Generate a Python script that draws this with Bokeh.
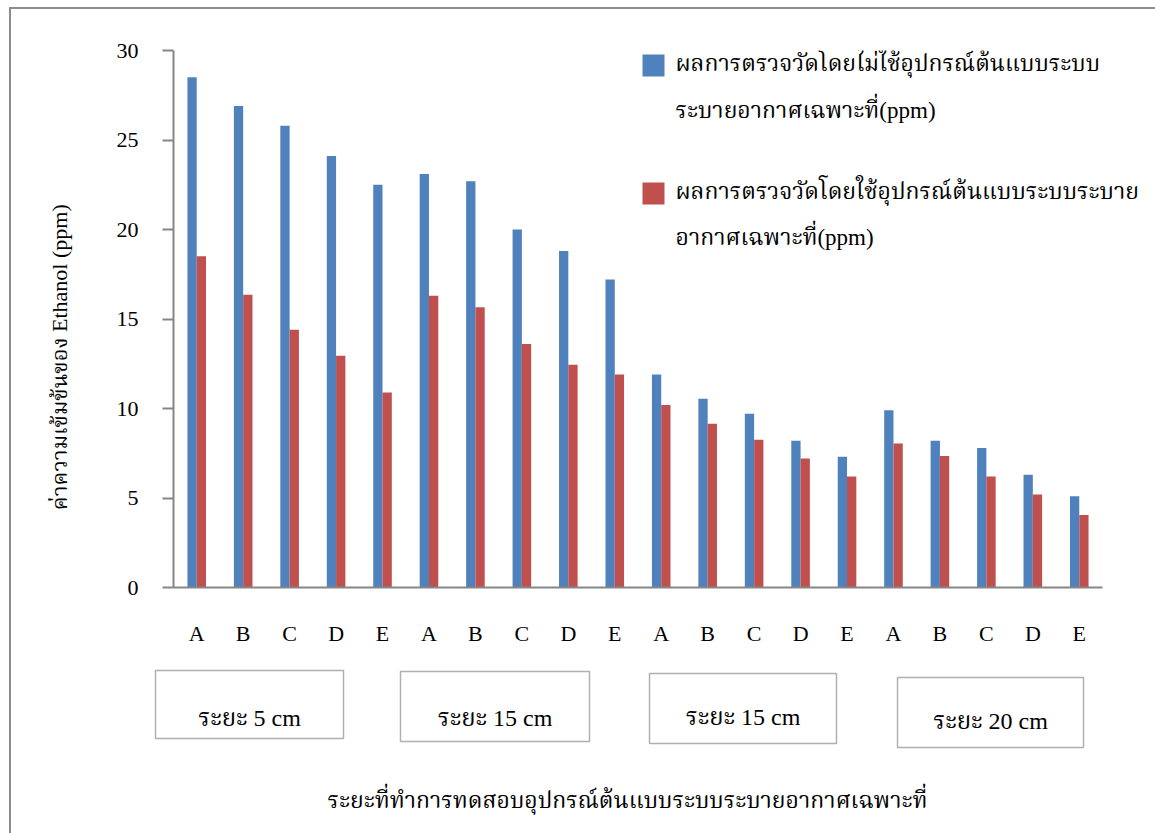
import numpy as np
from math import pi
from bokeh.plotting import figure
from bokeh.layouts import column, row
from bokeh.models import Range1d, FixedTicker, ColumnDataSource
from bokeh.core.properties import value
from bokeh.transform import dodge
from bokeh.embed import file_html
from bokeh.resources import INLINE

# ---------------- data ----------------
letters = ["A", "B", "C", "D", "E", "A", "B", "C", "D", "E",
           "A", "B", "C", "D", "E", "A", "B", "C", "D", "E"]
groups = ["ระยะ 5 cm", "ระยะ 15 cm", "ระยะ 15 cm", "ระยะ 20 cm"]
no_device = [28.5, 26.9, 25.8, 24.1, 22.5, 23.1, 22.7, 20.0, 18.8, 17.2,
             11.9, 10.55, 9.7, 8.2, 7.3, 9.9, 8.2, 7.8, 6.3, 5.1]
with_device = [18.5, 16.35, 14.4, 12.95, 10.9, 16.3, 15.65, 13.6, 12.45, 11.9,
               10.2, 9.15, 8.25, 7.2, 6.2, 8.05, 7.35, 6.2, 5.2, 4.05]
series_lines = [
    ["ผลการตรวจวัดโดยไม่ใช้อุปกรณ์ต้นแบบระบบ", "ระบายอากาศเฉพาะที่(ppm)"],
    ["ผลการตรวจวัดโดยใช้อุปกรณ์ต้นแบบระบบระบาย", "อากาศเฉพาะที่(ppm)"],
]
series_colors = ["#4F81BD", "#C0504D"]
y_title = "ค่าความเข้มข้นของ Ethanol (ppm)"
x_title = "ระยะที่ทำการทดสอบอุปกรณ์ต้นแบบระบบระบายอากาศเฉพาะที่"
y_ticks = [0, 5, 10, 15, 20, 25, 30]

# ---------------- page geometry (absolute pixels) ----------------
W, H = 1155, 833
OX, OY = 11, 9            # content origin after margin + border
SPLIT_X = 100             # left title strip | chart
SPLIT_Y = 655             # chart | group boxes strip
FL, FR, FT, FB = 173, 1102, 50, 587   # chart frame (axis extent)
n = len(letters)
YMAX = 30
CAT_PX = (FR - FL) / n
FONT = "'Liberation Serif', 'Noto Serif Thai', 'Noto Sans Thai', serif"


def cx(px):
    return (px - FL) / CAT_PX - 0.5


def cy(py):
    return (FB - py) / (FB - FT) * YMAX


def helper_fig(x0, x1, y0, y1):
    f = figure(width=x1 - x0, height=y1 - y0,
               x_range=Range1d(x0, x1), y_range=Range1d(H - y1, H - y0),
               x_axis_location=None, y_axis_location=None,
               output_backend="svg", toolbar_location=None, min_border=0)
    f.outline_line_color = None
    f.xgrid.visible = False
    f.ygrid.visible = False
    return f


# ---------------- left strip: y title ----------------
left = helper_fig(OX, SPLIT_X, OY, SPLIT_Y)
left.text(x=[59], y=[H - 378], text=[y_title], angle=pi / 2,
          text_align="center", text_baseline="middle",
          text_font=value(FONT), text_font_size="22px", text_color="black")

# ---------------- chart ----------------
x = np.arange(n)
src = ColumnDataSource(dict(x=x, a=no_device, b=with_device))

p = figure(width=W - SPLIT_X, height=SPLIT_Y - OY,
           x_range=Range1d(-0.5, cx(W)), y_range=Range1d(0, cy(FT)),
           output_backend="svg", toolbar_location=None,
           min_border_left=FL - SPLIT_X, min_border_right=0,
           min_border_top=FT - OY, min_border_bottom=SPLIT_Y - FB)
p.outline_line_color = None
p.xgrid.visible = False
p.ygrid.visible = False

p.vbar(x=dodge("x", -0.1), top="a", width=0.2, source=src,
       fill_color=series_colors[0], line_color=None)
p.vbar(x=dodge("x", 0.1), top="b", width=0.2, source=src,
       fill_color=series_colors[1], line_color=None)

p.xaxis.bounds = (-0.5, n - 0.5)
p.xaxis.ticker = FixedTicker(ticks=list(range(n)))
p.xaxis.major_label_overrides = {i: letters[i] for i in range(n)}
p.xaxis.major_tick_line_color = None
p.xaxis.minor_tick_line_color = None
p.xaxis.axis_line_color = "#868686"
p.xaxis.axis_line_width = 2
p.xaxis.major_label_standoff = 27
p.xaxis.major_label_text_font = FONT
p.xaxis.major_label_text_font_size = "22px"
p.xaxis.major_label_text_color = "black"

p.yaxis.bounds = (0, YMAX)
p.yaxis.ticker = FixedTicker(ticks=y_ticks)
p.yaxis.major_tick_out = 11
p.yaxis.major_tick_in = 0
p.yaxis.minor_tick_line_color = None
p.yaxis.major_tick_line_color = "#868686"
p.yaxis.major_tick_line_width = 2
p.yaxis.axis_line_color = "#868686"
p.yaxis.axis_line_width = 2
p.yaxis.major_label_standoff = 24
p.yaxis.major_label_text_font = FONT
p.yaxis.major_label_text_font_size = "22px"
p.yaxis.major_label_text_color = "black"

# legend (drawn manually to match the two-line entries)
sq_px = [(54, 76), (182, 204)]
line_px = [(63, 110), (191, 237)]
for (t, b), ys, lines, c in zip(sq_px, line_px, series_lines, series_colors):
    p.quad(left=[cx(642)], right=[cx(664)], top=[cy(t)], bottom=[cy(b)],
           fill_color=c, line_color=None)
    p.text(x=[cx(675)] * len(lines), y=[cy(yy) for yy in ys], text=lines,
           text_align="left", text_baseline="middle",
           text_font=value(FONT), text_font_size="23px", text_color="black")

# ---------------- bottom strip: group boxes + x title ----------------
bottom = helper_fig(OX, W, SPLIT_Y, H)
box_px = [(155, 343, 670, 738), (400, 589, 671, 741), (649, 836, 673, 743), (897, 1083, 677, 747)]
box_text_y = [717, 717, 716, 720]
bottom.quad(left=[b[0] for b in box_px], right=[b[1] for b in box_px],
            top=[H - b[2] for b in box_px], bottom=[H - b[3] for b in box_px],
            fill_color="white", line_color="#b0b0b0", line_width=1.5)
bottom.text(x=[(b[0] + b[1]) / 2 for b in box_px], y=[H - ty for ty in box_text_y], text=groups,
            text_align="center", text_baseline="middle",
            text_font=value(FONT), text_font_size="24px", text_color="black")
bottom.text(x=[627], y=[H - 800], text=[x_title],
            text_align="center", text_baseline="middle",
            text_font=value(FONT), text_font_size="23px", text_color="black")

layout = column(row(left, p), bottom, margin=(7, 0, 0, 9),
                styles={"border-left": "2px solid #8c8c8c", "border-top": "2px solid #8c8c8c"})

open("out.html", "w").write(file_html(layout, INLINE))
